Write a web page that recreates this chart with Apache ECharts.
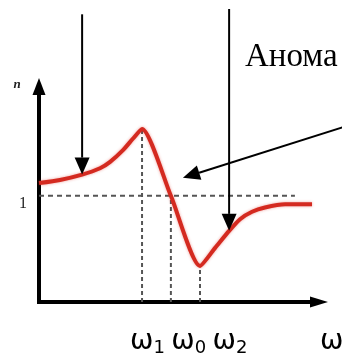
<!DOCTYPE html>
<html>
<head>
<meta charset="utf-8">
<script src="https://cdn.jsdelivr.net/npm/echarts@6/dist/echarts.min.js"></script>
<style>
  html, body { margin: 0; padding: 0; background: #fff; }
  #chart { width: 342px; height: 354px; }
</style>
</head>
<body>
<div id="chart"></div>
<script>
// Refractive index n(ω) through an absorption band (anomalous dispersion)
const omegaVals = [0, 0.75, 1.54, 2.18, 2.54, 3.0, 3.36, 3.68, 4.71, 5.75, 6.29, 6.79, 7.18, 7.61, 8.07, 8.79, 9.75];
const nVals     = [1.12, 1.15, 1.20, 1.26, 1.32, 1.43, 1.54, 1.63, 1.00, 0.34, 0.51, 0.67, 0.78, 0.85, 0.89, 0.92, 0.92];

// characteristic frequencies: ω1 (maximum), ω0 (n = 1), ω2 (minimum)
const markIdx  = [7, 8, 9];
const markSubs = ['1', '0', '2'];

// reference level n = 1 and where its dashed guide ends
const nRef = 1;
const nRefEnd = 9.14;

// axis extents
const omegaMax = 10;
const nMax = 2.03;
const nTickLabels = ['1'];

// pointer arrows: tail [ω, n] and the curve point (or spot) they point at
const arrowTails = [[1.54, 2.71], [6.79, 2.76], [11.2, 1.675]];
const arrowTips  = [
  [omegaVals[2], nVals[2]],
  [omegaVals[11], nVals[11]],
  [5.14, 1.17]
];

const curve = omegaVals.map((w, i) => [w, nVals[i]]);

const guideStyle = { color: '#555', width: 2, type: [4, 3] };
const guideSeries = [];
// horizontal n = 1 guide
guideSeries.push({
  type: 'line', data: [[0, nRef], [nRefEnd, nRef]], symbol: 'none', silent: true, z: 1,
  lineStyle: { color: '#555', width: 2, type: [5, 4] }
});
// vertical guides from the axis to the curve
markIdx.forEach(i => {
  guideSeries.push({
    type: 'line', data: [[omegaVals[i], 0], [omegaVals[i], nVals[i]]], symbol: 'none', silent: true, z: 1,
    lineStyle: guideStyle
  });
});

const chart = echarts.init(document.getElementById('chart'), null, { renderer: 'canvas' });

const subLabel = markSubs.map(s => '{w|ω}{s|' + s + '}').join('{g| }');

chart.setOption({
  animation: false,
  backgroundColor: '#fff',
  grid: { left: 39, right: 23, top: 86.5, bottom: 52 },
  xAxis: {
    type: 'value', min: 0, max: omegaMax,
    splitLine: { show: false }, axisTick: { show: false }, axisLabel: { show: false },
    axisLine: {
      show: true, onZero: false,
      symbol: ['none', 'triangle'], symbolSize: [11, 18],
      lineStyle: { color: '#000', width: 4, cap: 'square' }
    }
  },
  yAxis: {
    type: 'value', min: 0, max: nMax, interval: 1,
    splitLine: { show: false }, axisTick: { show: false },
    axisLabel: {
      show: true, margin: 12, verticalAlign: 'top',
      formatter: v => (nTickLabels.indexOf(String(v)) >= 0 ? String(v) : ''),
      fontFamily: '"Liberation Serif", serif', fontSize: 16, color: '#222'
    },
    axisLine: {
      show: true, onZero: false,
      symbol: ['none', 'triangle'], symbolSize: [13, 17],
      lineStyle: { color: '#000', width: 4, cap: 'square' }
    }
  },
  graphic: [
    {
      type: 'text', x: 17, y: 85,
      style: { text: 'n', font: 'italic bold 13px "Liberation Serif", serif', fill: '#222', align: 'center', verticalAlign: 'middle' }
    },
    {
      type: 'text', x: 245, y: 57,
      style: { text: 'Анома', font: '33px "Liberation Serif", serif', fill: '#000', align: 'left', verticalAlign: 'middle' }
    },
    {
      type: 'text', x: 130, y: 326,
      style: {
        text: subLabel, align: 'left', verticalAlign: 'top',
        rich: {
          w: { fontFamily: '"DejaVu Sans", sans-serif', fontSize: 28, lineHeight: 31, color: '#000' },
          s: { fontFamily: '"DejaVu Sans", sans-serif', fontSize: 18, lineHeight: 18, verticalAlign: 'bottom', color: '#000' },
          g: { fontFamily: '"DejaVu Sans", sans-serif', fontSize: 20, lineHeight: 31 }
        }
      }
    },
    {
      type: 'text', x: 320, y: 342,
      style: { text: 'ω', font: '28px "DejaVu Sans", sans-serif', fill: '#000', align: 'left', verticalAlign: 'middle' }
    }
  ],
  series: guideSeries.concat([
    {
      type: 'line', data: curve, symbol: 'none', smooth: 0.22, z: 3, silent: true,
      lineStyle: { color: '#d42a20', width: 4, shadowColor: 'rgba(220,40,30,0.45)', shadowBlur: 3 }
    },
    {
      type: 'custom', z: 5, silent: true,
      data: arrowTails.map((t, i) => [t[0], t[1], arrowTips[i][0], arrowTips[i][1]]),
      encode: { x: [0, 2], y: [1, 3] },
      renderItem: function (params, api) {
        const a = api.coord([api.value(0), api.value(1)]);
        const b = api.coord([api.value(2), api.value(3)]);
        const ang = Math.atan2(b[1] - a[1], b[0] - a[0]);
        const L = 17, W = 7.5;
        const bx = b[0] - L * Math.cos(ang), by = b[1] - L * Math.sin(ang);
        const px = -Math.sin(ang) * W, py = Math.cos(ang) * W;
        return {
          type: 'group',
          children: [
            { type: 'line', shape: { x1: a[0], y1: a[1], x2: bx, y2: by }, style: { stroke: '#000', lineWidth: 2 } },
            { type: 'polygon', shape: { points: [[b[0], b[1]], [bx + px, by + py], [bx - px, by - py]] }, style: { fill: '#000' } }
          ]
        };
      }
    }
  ])
});
</script>
</body>
</html>
